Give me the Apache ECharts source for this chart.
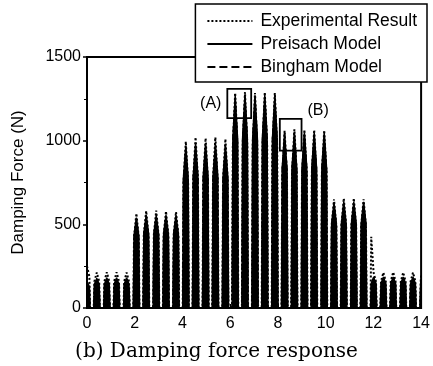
<!DOCTYPE html>
<html>
<head>
<meta charset="utf-8">
<script src="https://cdn.jsdelivr.net/npm/echarts@6/dist/echarts.min.js"></script>
<style>html,body{margin:0;padding:0;background:#fff}#c{width:433px;height:366px}</style>
</head>
<body>
<div id="c"></div>
<script>
// time (s): for each hump – start, shoulder, peak, shoulder, end
var times = [
0,0.10,0.13,
0.28,0.31,0.41,0.51,0.54, 0.70,0.73,0.83,0.93,0.96, 1.11,1.14,1.24,1.34,1.37, 1.53,1.56,1.66,1.76,1.79,
1.94,1.97,2.07,2.17,2.20, 2.35,2.38,2.48,2.58,2.61, 2.77,2.80,2.90,3.00,3.03, 3.18,3.21,3.31,3.41,3.44, 3.60,3.63,3.73,3.83,3.86,
4.01,4.04,4.14,4.24,4.27, 4.42,4.45,4.55,4.65,4.68, 4.84,4.87,4.97,5.07,5.10, 5.25,5.28,5.38,5.48,5.51, 5.67,5.70,5.80,5.90,5.93,
6.08,6.11,6.21,6.31,6.34, 6.49,6.52,6.62,6.72,6.75, 6.91,6.94,7.04,7.14,7.17, 7.32,7.35,7.45,7.55,7.58, 7.74,7.77,7.87,7.97,8.00,
8.15,8.18,8.28,8.38,8.41, 8.56,8.59,8.69,8.79,8.82, 8.98,9.01,9.11,9.21,9.24, 9.39,9.42,9.52,9.62,9.65, 9.81,9.84,9.94,10.04,10.07,
10.22,10.25,10.35,10.45,10.48, 10.63,10.66,10.76,10.86,10.89, 11.05,11.08,11.18,11.28,11.31, 11.46,11.49,11.59,11.69,11.72,
11.88,11.91,12.01,12.11,12.14, 12.29,12.32,12.42,12.52,12.55, 12.70,12.73,12.83,12.93,12.96, 13.12,13.15,13.25,13.35,13.38, 13.53,13.56,13.66,13.76,13.79,
13.95,13.98,14.00];

var experimental = [
250,188,0,
0,159,212,159,0, 0,160,214,160,0, 0,160,214,160,0, 0,159,212,159,0,
0,424,565,424,0, 0,435,580,435,0, 0,437,582,437,0, 0,434,578,434,0, 0,431,575,431,0,
0,746,995,746,0, 0,765,1020,765,0, 0,761,1015,761,0, 0,765,1020,765,0, 0,758,1010,758,0,
0,964,1285,964,0, 0,968,1290,968,0, 0,964,1285,964,0, 0,968,1290,968,0, 0,964,1285,964,0,
0,795,1060,795,0, 0,801,1068,801,0, 0,800,1066,800,0, 0,799,1065,799,0, 0,797,1062,797,0,
0,488,650,488,0, 0,491,655,491,0, 0,491,655,491,0, 0,488,650,488,0,
0,425,210,158,0, 0,159,212,159,0, 0,160,214,160,0, 0,159,212,159,0, 0,159,212,159,0,
0,150,195];

var preisach = [
160,128,0,
0,142,178,142,0, 0,144,180,144,0, 0,144,180,144,0, 0,144,180,144,0,
0,432,540,432,0, 0,444,555,444,0, 0,444,555,444,0, 0,444,555,444,0, 0,444,555,444,0,
0,776,970,776,0, 0,788,985,788,0, 0,788,985,788,0, 0,788,985,788,0, 0,784,980,784,0,
0,1016,1270,1016,0, 0,1020,1275,1020,0, 0,1016,1270,1016,0, 0,1020,1275,1020,0, 0,1016,1270,1016,0,
0,836,1045,836,0, 0,840,1050,840,0, 0,840,1050,840,0, 0,840,1050,840,0, 0,838,1048,838,0,
0,504,630,504,0, 0,508,635,508,0, 0,508,635,508,0, 0,508,635,508,0,
0,148,185,148,0, 0,148,185,148,0, 0,148,185,148,0, 0,148,185,148,0, 0,148,185,148,0,
0,136,170];

var bingham = [
150,120,0,
0,136,170,136,0, 0,136,170,136,0, 0,136,170,136,0, 0,136,170,136,0,
0,422,528,422,0, 0,432,540,432,0, 0,432,540,432,0, 0,432,540,432,0, 0,432,540,432,0,
0,764,955,764,0, 0,776,970,776,0, 0,776,970,776,0, 0,776,970,776,0, 0,772,965,772,0,
0,1004,1255,1004,0, 0,1008,1260,1008,0, 0,1004,1255,1004,0, 0,1008,1260,1008,0, 0,1004,1255,1004,0,
0,828,1035,828,0, 0,828,1035,828,0, 0,828,1035,828,0, 0,828,1035,828,0, 0,828,1035,828,0,
0,496,620,496,0, 0,496,620,496,0, 0,496,620,496,0, 0,496,620,496,0,
0,140,175,140,0, 0,140,175,140,0, 0,140,175,140,0, 0,140,175,140,0, 0,140,175,140,0,
0,128,160];

var xTicks = [0, 2, 4, 6, 8, 10, 12, 14];
var yTicks = [0, 500, 1000, 1500];
var seriesNames = ['Experimental Result', 'Preisach Model', 'Bingham Model'];
var boxA = [[5.88, 1135], [6.88, 1310]];
var boxB = [[8.08, 940], [8.99, 1130]];

function pairs(vals) { return times.map(function (t, i) { return [t, vals[i]]; }); }

var chart = echarts.init(document.getElementById('c'), null, {renderer: 'canvas'});
var axisFont = {fontFamily: 'Liberation Sans, Arial, sans-serif', fontSize: 16, color: '#000'};

chart.setOption({
  animation: false,
  backgroundColor: '#fff',
  title: {
    text: '(b) Damping force response',
    left: 'center', top: 337,
    textStyle: {fontFamily: 'DejaVu Serif, serif', fontSize: 20, fontWeight: 'normal', color: '#000'}
  },
  legend: {
    data: seriesNames,
    orient: 'vertical',
    right: 6, top: 4,
    backgroundColor: '#fff',
    borderColor: '#000', borderWidth: 1.5,
    padding: [8, 10, 6, 11],
    itemWidth: 45, itemHeight: 14, itemGap: 5,
    itemStyle: {opacity: 0},
    textStyle: {fontFamily: 'Liberation Sans, Arial, sans-serif', fontSize: 17.5, color: '#000', padding: [0, 0, 0, 3]},
    z: 10
  },
  grid: {
    left: 87, right: 8, top: 57, bottom: 58,
    show: true, borderColor: '#000', borderWidth: 2, backgroundColor: 'transparent'
  },
  xAxis: {
    type: 'value', min: 0, max: 14, interval: 2,
    axisLine: {lineStyle: {color: '#000', width: 2}},
    axisTick: {show: true, inside: true, length: 4, lineStyle: {color: '#000'}},
    splitLine: {show: false},
    axisLabel: Object.assign({margin: 8, formatter: function (v) { return xTicks.indexOf(v) >= 0 ? String(v) : ''; }}, axisFont)
  },
  yAxis: {
    type: 'value', min: 0, max: 1500, interval: 500,
    name: 'Damping Force (N)', nameLocation: 'middle', nameGap: 60,
    nameTextStyle: {fontFamily: 'Liberation Sans, Arial, sans-serif', fontSize: 17, color: '#000'},
    axisLine: {show: true, lineStyle: {color: '#000', width: 2}},
    axisTick: {show: true, length: 4, lineStyle: {color: '#000', width: 1.5}},
    minorTick: {show: true, splitNumber: 2, length: 3, lineStyle: {color: '#000'}},
    splitLine: {show: false},
    axisLabel: Object.assign({margin: 6, formatter: function (v) { return yTicks.indexOf(v) >= 0 ? String(v) : ''; }}, axisFont)
  },
  series: [
    {
      name: seriesNames[1], type: 'line', data: pairs(preisach),
      symbol: 'none', lineStyle: {color: '#000', width: 1.4, type: 'solid'},
      areaStyle: {color: '#000', opacity: 1},
      itemStyle: {color: '#000'},
      markArea: {
        silent: true,
        itemStyle: {color: 'rgba(0,0,0,0)', borderColor: '#000', borderWidth: 1.8},
        label: {fontFamily: 'Liberation Sans, Arial, sans-serif', fontSize: 16, color: '#000'},
        data: [
          [{coord: boxA[0], label: {show: true, position: 'left', formatter: '(A)', distance: 5}}, {coord: boxA[1]}],
          [{coord: boxB[0], label: {show: true, position: 'right', formatter: '(B)', distance: 5, offset: [0, -24]}}, {coord: boxB[1]}]
        ]
      }
    },
    {
      name: seriesNames[2], type: 'line', data: pairs(bingham),
      symbol: 'none', lineStyle: {color: '#000', width: 1.4, type: 'dashed'},
      itemStyle: {color: '#000'}
    },
    {
      name: seriesNames[0], type: 'line', data: pairs(experimental),
      symbol: 'none', lineStyle: {color: '#000', width: 2, type: 'dotted'},
      itemStyle: {color: '#000'}
    }
  ]
});
</script>
</body>
</html>
